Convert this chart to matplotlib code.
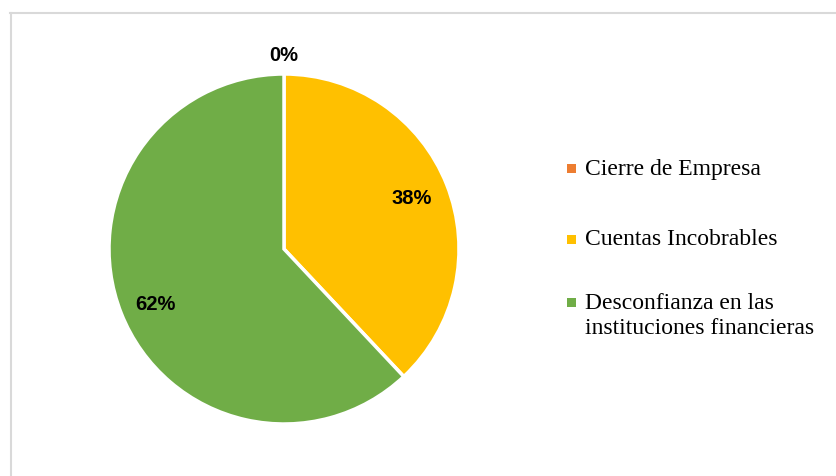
import matplotlib.pyplot as plt
from matplotlib.patches import Rectangle

labels = ['Cierre de Empresa', 'Cuentas Incobrables',
          'Desconfianza en las\ninstituciones financieras']
values = [0, 38, 62]
pct_text = ['0%', '38%', '62%']
colors = ['#ED7D31', '#FFC000', '#70AD47']

W, H = 837, 477
fig = plt.figure(figsize=(W / 100, H / 100), dpi=100)

# light frame, only top and left visible like the source
fig.add_artist(plt.Line2D([10 / W, 1], [1 - 14 / H, 1 - 14 / H], color='#d9d9d9', lw=1.5))
fig.add_artist(plt.Line2D([11 / W, 11 / W], [0, 1 - 14 / H], color='#d9d9d9', lw=1.5))

# pie centre (284,250) px, radius 175 px
cx, cy, r = 284, 250, 175
ax = fig.add_axes([(cx - r) / W, (H - cy - r) / H, 2 * r / W, 2 * r / H])
ax.pie(values, colors=colors, startangle=90, counterclock=False,
       wedgeprops=dict(edgecolor='white', linewidth=2.5))
ax.set_xlim(-1, 1)
ax.set_ylim(-1, 1)
ax.set_aspect('equal')
ax.axis('off')

lab_pos = [(0, 1.114), (0.731, 0.297), (-0.737, -0.314)]
for (x, y), t in zip(lab_pos, pct_text):
    ax.text(x, y, t, ha='center', va='center', fontsize=14.5, fontweight='bold',
            family='Liberation Sans', clip_on=False)

# legend
leg_y = [169, 240, 316.5]
for y, lab, c in zip(leg_y, labels, colors):
    first_line_y = y if '\n' not in lab else 303
    fig.add_artist(Rectangle((567 / W, 1 - (first_line_y + 4.5) / H), 9 / W, 9 / H,
                             facecolor=c, edgecolor='none', transform=fig.transFigure))
    fig.text(585 / W, 1 - y / H, lab, ha='left', va='center', fontsize=17,
             family='Liberation Serif', linespacing=1.25)

fig.savefig('out.png', dpi=100)
